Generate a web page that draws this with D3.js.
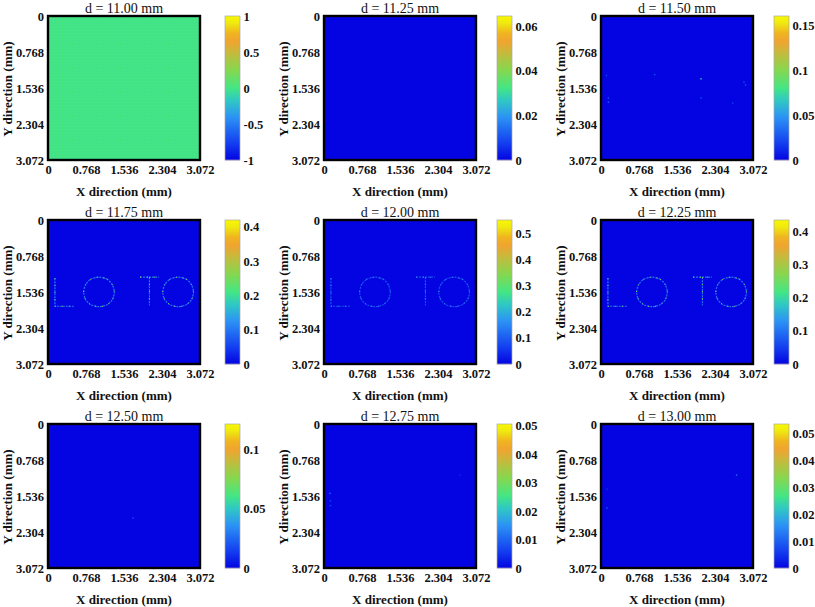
<!DOCTYPE html>
<html><head><meta charset="utf-8">
<script src="https://cdn.jsdelivr.net/npm/d3@7"></script>
<style>
html,body{margin:0;padding:0;background:#fff}
svg{display:block}
text{font-family:"Liberation Serif",serif;fill:#111}
</style></head><body><svg id="c" width="815" height="607"></svg>
<script>
// ---- data ----
const titles = ["d = 11.00 mm","d = 11.25 mm","d = 11.50 mm","d = 11.75 mm","d = 12.00 mm","d = 12.25 mm","d = 12.50 mm","d = 12.75 mm","d = 13.00 mm"];
const axisTicks = [0,0.768,1.536,2.304,3.072];
const axisLabels = ["0","0.768","1.536","2.304","3.072"];
const barMin = [-1,0,0,0,0,0,0,0,0];
const barMax = [1,0.0645,0.16,0.42,0.55,0.436,0.122,0.0507,0.0537];
const barTicks = [
  [-1,-0.5,0,0.5,1],[0,0.02,0.04,0.06],[0,0.05,0.1,0.15],
  [0,0.1,0.2,0.3,0.4],[0,0.1,0.2,0.3,0.4,0.5],[0,0.1,0.2,0.3,0.4],
  [0,0.05,0.1],[0,0.01,0.02,0.03,0.04,0.05],[0,0.01,0.02,0.03,0.04,0.05]];
const fieldLevel = [0,0,0,0,0,0,0,0,0];
const glyphBase = [null,null,null,0.10,0.085,0.10,null,null,null];
const glyphPeak = [null,null,null,0.25,0.17,0.27,null,null,null];
const strokeL = [[0.14,1.24],[0.14,1.84],[0.52,1.84]];
const strokeTbar = [[1.86,1.22],[2.24,1.22]];
const strokeTstem = [[2.05,1.22],[2.05,1.82]];
const ringA = [[1.03,1.22],[1.19,1.26],[1.30,1.38],[1.34,1.54],[1.30,1.70],[1.19,1.81],[1.03,1.85],[0.87,1.81],[0.76,1.70],[0.72,1.54],[0.76,1.38],[0.87,1.26]];
const ringB = [[2.63,1.22],[2.79,1.26],[2.90,1.38],[2.94,1.54],[2.90,1.70],[2.79,1.81],[2.63,1.85],[2.47,1.81],[2.36,1.70],[2.32,1.54],[2.36,1.38],[2.47,1.26]];
const specks = [
  [],[],
  [[2.02,1.34,0.07],[1.085,1.25,0.025],[0.11,1.27,0.02],[2.89,1.41,0.025],[2.92,1.47,0.025],[0.15,1.75,0.025],[0.15,1.84,0.03],[2.02,1.75,0.025],[2.66,1.86,0.018]],
  [],[],[],
  [[1.72,2.01,0.018]],
  [[0.12,1.48,0.011],[0.13,1.64,0.007],[0.13,1.74,0.007],[2.75,1.09,0.004]],
  [[2.74,1.09,0.012],[0.12,1.79,0.009],[0.12,1.39,0.005]]];
const mapStops = [0,0.12,0.3,0.42,0.5,0.62,0.72,0.82,0.88,0.95,1];
const mapColors = ["#0404e2","#1440f0","#2c94f4","#30cbc0","#44e684","#84d850","#b8c040","#f0a430","#f0b420","#f0e810","#f8f800"];

// ---- layout ----
const colX = [48,324,601], rowY = [16,220,424], W = 152, H = 144;
const barX = [225,497,774], barW = 15;
const svg = d3.select("#c");
const unit = d3.scaleLinear().domain(mapStops).range(mapColors).interpolate(d3.interpolateRgb);

const defs = svg.append("defs");
const pat = defs.append("pattern").attr("id","tex").attr("width",3).attr("height",3).attr("patternUnits","userSpaceOnUse");
pat.append("rect").attr("width",3).attr("height",3).attr("fill",unit(0.5));
pat.append("circle").attr("cx",1).attr("cy",1).attr("r",0.7).attr("fill","#3cdc94");

titles.forEach((title,i)=>{
  const x0 = colX[i%3], y0 = rowY[Math.floor(i/3)];
  const g = svg.append("g").attr("transform",`translate(${x0},${y0})`);
  const x = d3.scaleLinear().domain([0,3.072]).range([0,W]);
  const y = d3.scaleLinear().domain([0,3.072]).range([0,H]);
  const v = d3.scaleLinear().domain([barMin[i],barMax[i]]).range([0,1]);
  const col = d => unit(v(d));

  // field
  g.append("rect").attr("width",W).attr("height",H)
    .attr("fill", i===0 ? "url(#tex)" : col(fieldLevel[i]));

  // glyphs
  if (glyphBase[i]!==null) {
    const open = d3.line().x(d=>x(d[0])).y(d=>y(d[1]));
    const closed = d3.line().x(d=>x(d[0])).y(d=>y(d[1])).curve(d3.curveCardinalClosed.tension(0.2));
    const shapes = [open(strokeL),open(strokeTbar),open(strokeTstem),closed(ringA),closed(ringB)];
    g.selectAll(null).data(shapes).join("path").attr("d",d=>d).attr("fill","none")
      .attr("stroke",col(glyphBase[i])).attr("stroke-width",1.2).attr("stroke-dasharray","2 1");
    g.selectAll(null).data(shapes).join("path").attr("d",d=>d).attr("fill","none")
      .attr("stroke",col(glyphPeak[i])).attr("stroke-width",1).attr("stroke-dasharray","1 6");
  }
  // isolated specks
  g.selectAll(null).data(specks[i]).join("rect")
    .attr("x",d=>x(d[0])-0.7).attr("y",d=>y(d[1])-0.7).attr("width",1.4).attr("height",1.4)
    .attr("fill",d=>col(d[2]));

  // frame
  g.append("rect").attr("width",W).attr("height",H).attr("fill","none").attr("stroke","#000").attr("stroke-width",2.4);

  // axes
  const ax = g.append("g").attr("transform",`translate(0,${H})`)
    .call(d3.axisBottom(x).tickValues(axisTicks).tickFormat((d,k)=>axisLabels[k]).tickSize(0).tickPadding(5));
  const ay = g.append("g")
    .call(d3.axisLeft(y).tickValues(axisTicks).tickFormat((d,k)=>axisLabels[k]).tickSize(0).tickPadding(4));
  [ax,ay].forEach(a=>{a.select(".domain").remove();
    a.selectAll("text").attr("font-size",12.5).attr("font-weight","bold").style("font-family","Liberation Serif").attr("fill","#111");});

  g.append("text").attr("x",W/2).attr("y",-3.5).attr("text-anchor","middle").attr("font-size",14).text(title);
  g.append("text").attr("x",W/2).attr("y",H+35.5).attr("text-anchor","middle").attr("font-size",13).attr("font-weight","bold").text("X direction (mm)");
  g.append("text").attr("transform",`translate(-36,${H/2+1}) rotate(-90)`).attr("text-anchor","middle").attr("font-size",13).attr("font-weight","bold").text("Y direction (mm)");

  // colorbar
  const bg = svg.append("g").attr("transform",`translate(${barX[i%3]},${y0})`);
  const by = d3.scaleLinear().domain([barMin[i],barMax[i]]).range([H,0]);
  const steps = d3.range(0,H);
  bg.selectAll(null).data(steps).join("rect").attr("x",0).attr("y",d=>d).attr("width",barW).attr("height",1.2)
    .attr("fill",d=>col(by.invert(d+0.5)));
  bg.append("rect").attr("width",barW).attr("height",H).attr("fill","none").attr("stroke","#aaa").attr("stroke-width",0.7);
  const ac = bg.append("g").attr("transform",`translate(${barW},0)`)
    .call(d3.axisRight(by).tickValues(barTicks[i]).tickFormat(d=>String(d)).tickSize(0).tickPadding(3.5));
  ac.select(".domain").remove();
  ac.selectAll("text").attr("font-size",12.5).attr("font-weight","bold").style("font-family","Liberation Serif").attr("fill","#111");
});
</script></body></html>
